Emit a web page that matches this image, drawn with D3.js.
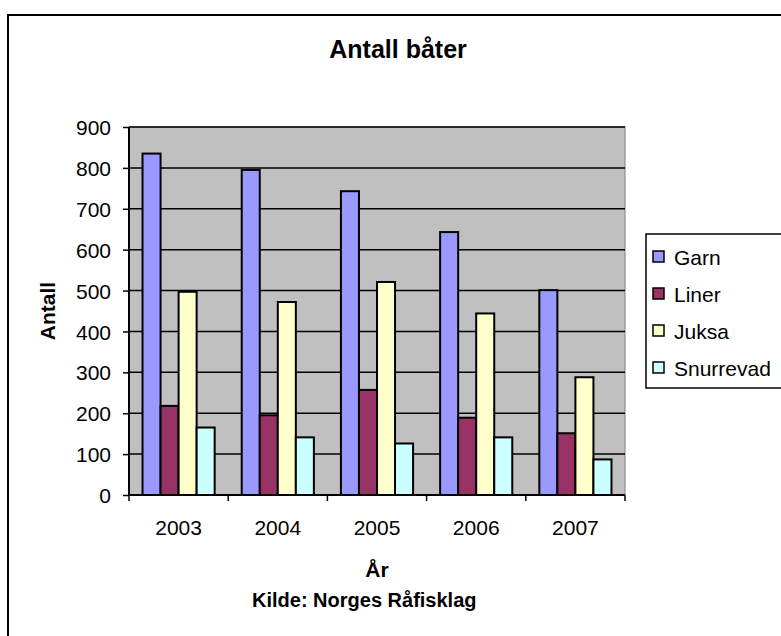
<!DOCTYPE html>
<html>
<head>
<meta charset="utf-8">
<script src="https://cdn.jsdelivr.net/npm/d3@7"></script>
<style>
  body { margin: 0; background: #fff; }
  text { font-family: "Liberation Sans", Arial, sans-serif; fill: #000; }
</style>
</head>
<body>
<div id="chart"></div>
<script>
// chart data
var years = ["2003", "2004", "2005", "2006", "2007"];
var seriesNames = ["Garn", "Liner", "Juksa", "Snurrevad"];
var garn = [835, 795, 743, 643, 501];
var liner = [218, 195, 257, 189, 151];
var juksa = [497, 472, 521, 444, 288];
var snurrevad = [165, 141, 126, 141, 87];
var yTicks = [0, 100, 200, 300, 400, 500, 600, 700, 800, 900];

var colors = ["#9999FF", "#993366", "#FFFFCC", "#CCFFFF"];
var seriesValues = [garn, liner, juksa, snurrevad];

var svgWidth = 781;
var svgHeight = 636;

// plot area edges
var margin = { top: 127, left: 129, right: 156, bottom: 141 };
var w = svgWidth - margin.left - margin.right;
var h = svgHeight - margin.top - margin.bottom;

var svg = d3.select("#chart")
  .append("svg")
  .attr("width", svgWidth)
  .attr("height", svgHeight);

svg.append("rect")
  .attr("width", svgWidth)
  .attr("height", svgHeight)
  .attr("fill", "#fff");

// outer chart border (runs off the right and bottom)
svg.append("rect")
  .attr("x", 8)
  .attr("y", 15)
  .attr("width", 900)
  .attr("height", 800)
  .attr("fill", "none")
  .attr("stroke", "#000")
  .attr("stroke-width", 2);

var g = svg.append("g")
  .attr("transform", `translate(${margin.left}, ${margin.top})`);

// scales
var x0 = d3.scaleBand()
  .domain(years)
  .range([0, w]);

var x1 = d3.scaleBand()
  .domain(seriesNames)
  .range([0, x0.bandwidth()])
  .paddingOuter(0.75);

var y = d3.scaleLinear()
  .domain([0, 900])
  .range([h, 0]);

// plot background
g.append("rect")
  .attr("width", w)
  .attr("height", h)
  .attr("fill", "#C0C0C0")
  .attr("stroke", "#808080")
  .attr("stroke-width", 1);

// gridlines
g.selectAll(".grid")
  .data(yTicks.filter(d => d > 0))
  .enter()
  .append("line")
  .attr("x1", 0)
  .attr("x2", w)
  .attr("y1", d => y(d))
  .attr("y2", d => y(d))
  .attr("stroke", "#000")
  .attr("stroke-width", 1.5);

// bars
var rows = years.map(function(yr, i) {
  return { year: yr, vals: seriesNames.map((s, j) => ({ name: s, value: seriesValues[j][i], color: colors[j] })) };
});

var groups = g.selectAll(".yr")
  .data(rows)
  .enter()
  .append("g")
  .attr("transform", d => `translate(${x0(d.year)}, 0)`);

groups.selectAll("rect")
  .data(d => d.vals)
  .enter()
  .append("rect")
  .attr("x", d => x1(d.name))
  .attr("width", x1.bandwidth())
  .attr("y", d => y(d.value))
  .attr("height", d => h - y(d.value))
  .attr("fill", d => d.color)
  .attr("stroke", "#000")
  .attr("stroke-width", 2);

// axes
var leftAxis = d3.axisLeft(y).tickValues(yTicks).tickSize(6).tickPadding(12);
var yAx = g.append("g").call(leftAxis);
yAx.select(".domain").attr("stroke-width", 2).attr("d", `M0,0V${h}`);
yAx.selectAll(".tick line").attr("stroke-width", 1.5);
yAx.selectAll("text")
  .style("font-size", "21px")
  .attr("dy", "0.36em");

var xAx = g.append("g")
  .attr("transform", `translate(0, ${h})`)
  .call(d3.axisBottom(x0).tickSize(0).tickPadding(25));
xAx.select(".domain").attr("stroke-width", 2).attr("d", `M0,0H${w}`);
xAx.selectAll("text").style("font-size", "21px");

// category separator ticks
xAx.selectAll(".sep")
  .data(d3.range(years.length + 1))
  .enter()
  .append("line")
  .attr("x1", d => d * x0.step())
  .attr("x2", d => d * x0.step())
  .attr("y1", 0)
  .attr("y2", 6)
  .attr("stroke", "#000")
  .attr("stroke-width", 1.5);

// titles
svg.append("text")
  .attr("x", 398)
  .attr("y", 58)
  .attr("text-anchor", "middle")
  .style("font-size", "25px")
  .style("font-weight", "bold")
  .text("Antall båter");

svg.append("text")
  .attr("transform", `translate(55, ${margin.top + h / 2}) rotate(-90)`)
  .attr("text-anchor", "middle")
  .style("font-size", "21px")
  .style("font-weight", "bold")
  .text("Antall");

svg.append("text")
  .attr("x", margin.left + w / 2)
  .attr("y", 577)
  .attr("text-anchor", "middle")
  .style("font-size", "21px")
  .style("font-weight", "bold")
  .text("År");

svg.append("text")
  .attr("x", 252)
  .attr("y", 607)
  .style("font-size", "20px")
  .style("font-weight", "bold")
  .text("Kilde: Norges Råfisklag");

// legend
var legend = svg.append("g");
legend.append("rect")
  .attr("x", 646)
  .attr("y", 234)
  .attr("width", 200)
  .attr("height", 154)
  .attr("fill", "#fff")
  .attr("stroke", "#000")
  .attr("stroke-width", 1.5);

var items = legend.selectAll(".item")
  .data(seriesNames)
  .enter()
  .append("g")
  .attr("transform", (d, i) => `translate(653, ${257 + i * 37})`);

items.append("rect")
  .attr("x", 0)
  .attr("y", -6)
  .attr("width", 11)
  .attr("height", 11)
  .attr("fill", (d, i) => colors[i])
  .attr("stroke", "#000")
  .attr("stroke-width", 1.5);

items.append("text")
  .attr("x", 21)
  .attr("y", 0)
  .attr("dy", "0.36em")
  .style("font-size", "21px")
  .text(d => d);
</script>
</body>
</html>
